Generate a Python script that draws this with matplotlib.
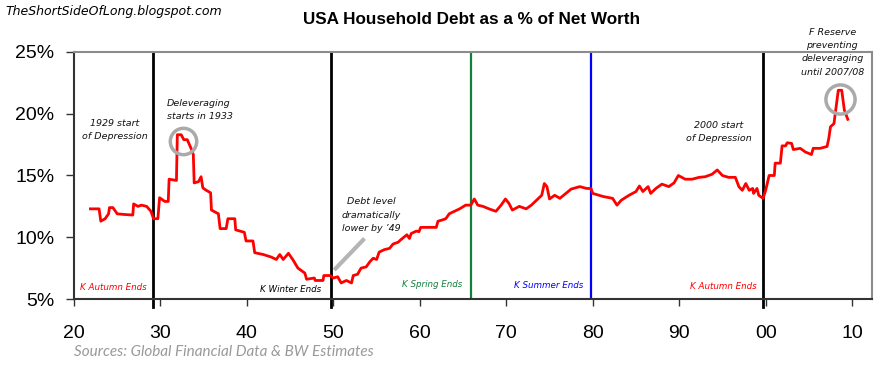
import matplotlib
matplotlib.use("Agg")
import matplotlib.pyplot as plt

# household debt as % of net worth (year, percent)
years = [1921.9, 1922.9, 1923.1, 1923.6, 1924.0, 1924.1, 1924.5, 1925.0, 1925.7, 1926.8,
         1926.9, 1927.4, 1927.8, 1928.4, 1928.9, 1929.2, 1929.7, 1929.9, 1930.5, 1930.9,
         1931.0, 1931.85, 1931.95, 1932.4, 1932.7, 1933.1, 1933.6, 1933.8, 1933.9, 1934.4,
         1934.7, 1934.9, 1935.3, 1935.8, 1935.9, 1936.7, 1936.9, 1937.6, 1937.8, 1938.6,
         1938.7, 1939.7, 1939.9, 1940.7, 1940.9, 1941.9, 1942.8, 1943.4, 1943.8, 1944.2,
         1944.8, 1945.3, 1945.9, 1946.7, 1946.9, 1947.8, 1947.9, 1948.8, 1948.9, 1949.6,
         1950.0, 1950.5, 1950.9, 1951.5, 1952.1, 1952.3, 1952.8, 1953.2, 1953.8, 1954.2,
         1954.6, 1955.0, 1955.3, 1955.9, 1956.5, 1956.9, 1957.5, 1957.8, 1958.5, 1958.8,
         1959.0, 1959.6, 1959.9, 1960.1, 1961.9, 1962.1, 1962.6, 1963.0, 1963.4, 1964.0,
         1964.6, 1965.3, 1965.9, 1966.3, 1966.7, 1967.3, 1968.0, 1968.8, 1969.4, 1969.9,
         1970.3, 1970.7, 1971.5, 1972.3, 1972.9, 1973.5, 1974.1, 1974.4, 1974.7, 1975.0,
         1975.6, 1976.2, 1976.9, 1977.5, 1978.5, 1979.3, 1979.8, 1980.0, 1981.2, 1982.3,
         1982.8, 1983.3, 1984.2, 1985.0, 1985.4, 1985.8, 1986.4, 1986.7, 1987.3, 1988.0,
         1988.8, 1989.4, 1989.9, 1990.7, 1991.5, 1992.3, 1993.0, 1993.8, 1994.4, 1995.0,
         1995.7, 1996.5, 1996.9, 1997.3, 1997.7, 1998.1, 1998.5, 1998.6, 1999.0, 1999.2,
         1999.7, 2000.0, 2000.4, 2001.0, 2001.1, 2001.7, 2001.9, 2002.3, 2002.5, 2003.0,
         2003.2, 2004.0, 2004.6, 2005.3, 2005.5, 2006.3, 2007.1, 2007.3, 2007.5, 2007.9,
         2008.1, 2008.4, 2008.8, 2009.1, 2009.5]
debt_pct = [12.3, 12.3, 11.3, 11.5, 11.9, 12.4, 12.4, 11.9, 11.85, 11.8,
            12.7, 12.5, 12.6, 12.5, 12.1, 11.5, 11.5, 13.2, 12.9, 12.9,
            14.7, 14.6, 18.3, 18.3, 17.9, 17.9, 17.1, 16.7, 14.4, 14.5,
            14.9, 14.0, 13.8, 13.6, 12.2, 11.9, 10.7, 10.7, 11.5, 11.5,
            10.6, 10.4, 9.7, 9.7, 8.75, 8.6, 8.4, 8.2, 8.6, 8.2,
            8.7, 8.2, 7.5, 7.1, 6.6, 6.7, 6.5, 6.5, 6.9, 6.9,
            6.7, 6.8, 6.3, 6.5, 6.3, 6.9, 7.0, 7.5, 7.6, 8.0,
            8.3, 8.2, 8.8, 9.0, 9.1, 9.45, 9.6, 9.8, 10.2, 9.9,
            10.3, 10.5, 10.45, 10.8, 10.8, 11.3, 11.4, 11.5, 11.9, 12.1,
            12.3, 12.6, 12.6, 13.1, 12.6, 12.5, 12.3, 12.1, 12.6, 13.1,
            12.75, 12.2, 12.5, 12.3, 12.6, 13.0, 13.4, 14.35, 14.1, 13.1,
            13.4, 13.15, 13.55, 13.9, 14.1, 13.95, 13.95, 13.55, 13.3, 13.15,
            12.6, 13.0, 13.4, 13.7, 14.15, 13.7, 14.1, 13.55, 13.95, 14.3,
            14.1, 14.4, 15.0, 14.7, 14.7, 14.85, 14.9, 15.1, 15.45, 15.0,
            14.85, 14.85, 14.1, 13.8, 14.35, 13.8, 13.95, 13.55, 13.95, 13.4,
            13.15, 13.8, 15.0, 15.0, 16.0, 16.0, 17.4, 17.4, 17.65, 17.6,
            17.1, 17.2, 16.9, 16.7, 17.2, 17.2, 17.35, 18.0, 18.95, 19.2,
            20.3, 21.9, 21.9, 20.3, 19.55]

# K-wave season boundaries
season_years = [1929.1, 1949.7, 1965.9, 1979.8, 1999.7]
season_colors = ["black", "black", "#12803c", "#0000ff", "black"]
season_labels = ["K Autumn Ends", "K Winter Ends", "K Spring Ends", "K Summer Ends", "K Autumn Ends"]
season_label_x = [1924.6, 1945.0, 1961.4, 1974.9, 1995.1]
season_label_y = [5.9, 5.75, 6.15, 6.08, 6.0]
season_label_colors = ["#ff0000", "black", "#12803c", "#0000ff", "#ff0000"]

circle_years = [1932.6, 2008.6]
circle_vals = [17.8, 21.2]

xtick_years = list(range(1920, 2011, 10))
ytick_vals = [5, 10, 15, 20, 25]

fig = plt.figure(figsize=(8.85, 3.7), dpi=100)
ax = fig.add_axes([74 / 885, 1 - 299 / 370, (872 - 74) / 885, (299 - 52) / 370])

for yr, c in zip(season_years, season_colors):
    if c == "black":
        # black separators poke a little below the axis
        ax.axvline(yr, ymin=-8 / 247, ymax=1, color=c, lw=2.0, zorder=2, clip_on=False)
    else:
        ax.axvline(yr, color=c, lw=1.6, zorder=2)

ax.plot(years, debt_pct, color="#ff0000", lw=2.0, zorder=3)

ax.plot(circle_years[0], circle_vals[0], "o", ms=19, mfc="none", mec="#aaaaaa", mew=2.5, zorder=4)
ax.plot(circle_years[1], circle_vals[1], "o", ms=21, mfc="none", mec="#aaaaaa", mew=2.5, zorder=4)

# pointer under "Debt level ..."
ax.plot([1950.1, 1953.6], [7.35, 9.9], color="#b5b5b5", lw=3, solid_capstyle="butt", zorder=4)

note_font = dict(family="DejaVu Sans", style="italic", fontsize=6.8, color="#111111", linespacing=1.6)
ax.text(1924.7, 18.7, "1929 start\nof Depression", ha="center", va="center", **note_font)
ax.text(1930.7, 20.3, "Deleveraging\nstarts in 1933", ha="left", va="center", **note_font)
ax.text(1954.4, 11.8, "Debt level\ndramatically\nlower by \u201949", ha="center", va="center", **note_font)
ax.text(1994.6, 18.5, "2000 start\nof Depression", ha="center", va="center", **note_font)
ax.text(2007.7, 25.0, "F Reserve\npreventing\ndeleveraging\nuntil 2007/08", ha="center", va="center",
        clip_on=False, **note_font)

for lab, x, y, c in zip(season_labels, season_label_x, season_label_y, season_label_colors):
    ax.text(x, y, lab, ha="center", va="center", family="DejaVu Sans", style="italic",
            fontsize=6.3, color=c)

ax.set_xlim(1920, 2012.3)
ax.set_ylim(5, 25)
ax.set_xticks(xtick_years)
ax.set_xticklabels([f"{y % 100:02d}" for y in xtick_years], family="Liberation Sans", fontsize=14)
ax.set_yticks(ytick_vals)
ax.set_yticklabels([f"{v}%" for v in ytick_vals], family="Liberation Sans", fontsize=14)
ax.tick_params(axis="y", direction="out", length=6, width=1, color="#333333", pad=8)
ax.tick_params(axis="x", direction="out", length=5, width=1, color="#333333", pad=14)

for side in ["top", "right"]:
    ax.spines[side].set_color("#8c8c8c")
    ax.spines[side].set_linewidth(1.5)
for side in ["left", "bottom"]:
    ax.spines[side].set_color("#333333")
    ax.spines[side].set_linewidth(1.5)

fig.text(0.006, 0.968, "TheShortSideOfLong.blogspot.com", family="DejaVu Sans", style="italic",
         fontsize=9, color="black", ha="left", va="center")
fig.text(472 / 885, 1 - 20 / 370, "USA Household Debt as a % of Net Worth", family="Liberation Sans",
         weight="bold", fontsize=12.3, ha="center", va="center")
fig.text(74 / 885, 1 - 352 / 370, "Sources: Global Financial Data & BW Estimates", family="Lato",
         style="italic", fontsize=11, color="#999999", ha="left", va="center")

fig.savefig("out.png", dpi=100)
